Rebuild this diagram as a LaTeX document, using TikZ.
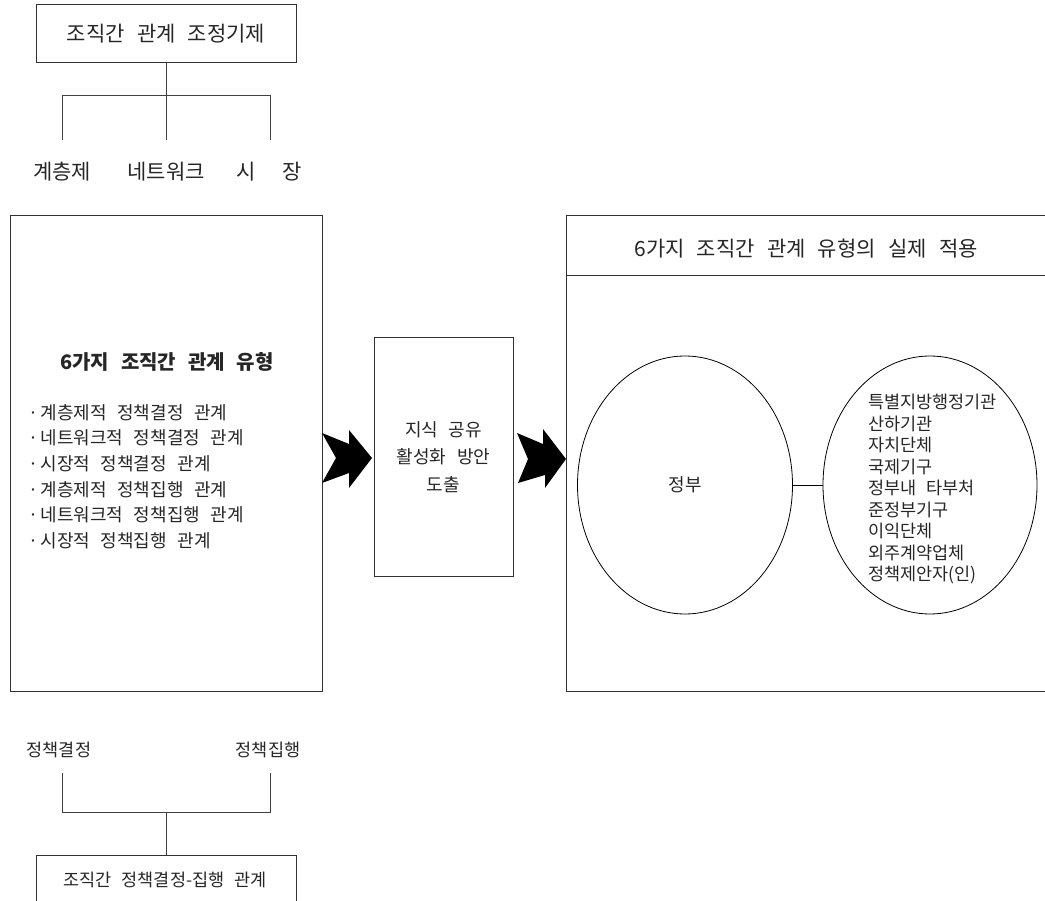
\documentclass[tikz,border=0pt]{standalone}
\usepackage{fontspec}
\setmainfont{Noto Sans CJK KR}[WordSpace=2.6]
\usetikzlibrary{shapes.geometric}
\begin{document}
\begin{tikzpicture}[x=1pt,y=-1pt,
  every node/.style={inner sep=0pt, text=black!85},
  box/.style={draw=black!80, line width=1pt},
  ln/.style={draw=black!75, line width=1pt},
  thin/.style={draw=black, line width=0.8pt},
  fbig/.style={font=\fontsize{21}{25}\selectfont},
  fmid/.style={font=\fontsize{18}{22}\selectfont},
  fsmall/.style={font=\fontsize{17.5}{21}\selectfont},
  arrowfill/.style={fill=black}]
\useasboundingbox (0,0) rectangle (1045,901);

% ---- top tree
\node[box, minimum width=260, minimum height=58, fbig] (top) at (166,34) {조직간 관계 조정기제};
\coordinate (tj) at (166,96);
\coordinate (tjl) at (62,96);
\coordinate (tjr) at (270,96);
\coordinate (tbl) at (62,140);
\coordinate (tbc) at (166,140);
\coordinate (tbr) at (270,140);
\draw[ln] (top.south) -- (tj);
\draw[ln] (tbl) -- (tjl) -- (tjr) -- (tbr);
\draw[ln] (tj) -- (tbc);
\node[fbig] (hier) at (62,172) {계층제};
\node[fbig] (net) at (166,172) {네트워크};
\node[fbig] (mkt) at (269,172) {시\hspace{1.3em}장};

% ---- left box
\node[box, minimum width=312, minimum height=475] (lbox) at (166,453.5) {};
\node[font=\fontsize{20}{24}\selectfont\bfseries] (ltitle) at (167,362) {6가지 조직간 관계 유형};
\node[anchor=west, align=left, font=\fontsize{18}{25.7}\selectfont] (list) at (25.5,476.5)
 {\makebox[15pt][c]{·}계층제적 정책결정 관계\\
  \makebox[15pt][c]{·}네트워크적 정책결정 관계\\
  \makebox[15pt][c]{·}시장적 정책결정 관계\\
  \makebox[15pt][c]{·}계층제적 정책집행 관계\\
  \makebox[15pt][c]{·}네트워크적 정책집행 관계\\
  \makebox[15pt][c]{·}시장적 정책집행 관계};

% ---- middle box
\node[box, minimum width=139, minimum height=238, align=center, font=\fontsize{18}{27.5}\selectfont] (mbox) at (443.5,457)
 {지식 공유\\활성화 방안\\도출};

% ---- block arrows
\fill[arrowfill] (322,433) -- (349,444) -- (349,430) -- (372,458) -- (349,488) -- (349,473) -- (322,483) -- (336,458) -- cycle;
\fill[arrowfill] (517,433) -- (543,444) -- (543,429) -- (566,459) -- (545,488) -- (545,475) -- (518,483) -- (528,459) -- cycle;

% ---- right box
\node[box, minimum width=480, minimum height=475] (rbox) at (806,453.5) {};
\coordinate (hl) at (566,276);
\coordinate (hr) at (1046,276);
\draw[box] (hl) -- (hr);
\node[fbig] (htitle) at (806,249) {6가지 조직간 관계 유형의 실제 적용};

\node[ellipse, thin, minimum width=215, minimum height=258, fmid] (gov) at (685,485) {정부};
\node[ellipse, thin, minimum width=214, minimum height=258] (org) at (930,485) {};
\draw[thin] (gov.east) -- (org.west);
\node[anchor=west, align=left, font=\fontsize{17.5}{21.5}\selectfont] (orglist) at (868,489)
 {특별지방행정기관\\산하기관\\자치단체\\국제기구\\정부내 타부처\\준정부기구\\이익단체\\외주계약업체\\정책제안자(인)};

% ---- bottom tree
\node[fsmall] (dec) at (59,750) {정책결정};
\node[fsmall] (imp) at (268,750) {정책집행};
\coordinate (bl1) at (62,773);
\coordinate (bl2) at (62,812);
\coordinate (br1) at (270,773);
\coordinate (br2) at (270,812);
\coordinate (bc) at (166,812);
\node[box, minimum width=260, minimum height=80] (bbox) at (166,895) {};
\draw[ln] (bl1) -- (bl2) -- (br2) -- (br1);
\draw[ln] (bc) -- (bbox.north);
\node[fsmall] (btext) at (165,880) {조직간 정책결정-집행 관계};
\end{tikzpicture}
\end{document}
